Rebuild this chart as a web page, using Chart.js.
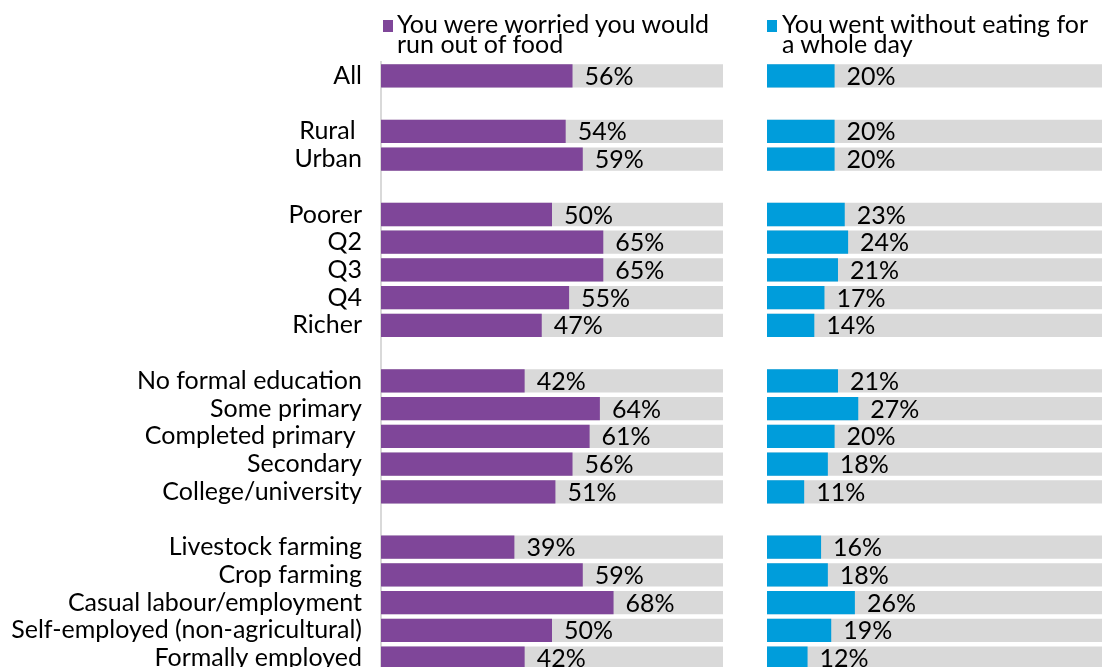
<!DOCTYPE html>
<html>
<head>
<meta charset="utf-8">
<script src="https://cdn.jsdelivr.net/npm/chart.js@4/dist/chart.umd.min.js"></script>
<style>
  html, body { margin: 0; padding: 0; background: #fff; overflow: hidden; width: 1102px; height: 667px; }
  .panel { position: absolute; top: 0; height: 672px; }
  #leftWrap { left: 0; width: 745px; }
  #rightWrap { left: 745px; width: 360px; }
  .legend { position: absolute; font-family: Lato, sans-serif; font-size: 25px; line-height: 20px; color: #000; white-space: nowrap; }
  .legend .sw { position: absolute; width: 10px; height: 12px; top: 7px; }
  .legend .tx { position: absolute; top: 0; }
</style>
</head>
<body>
<div class="panel" id="leftWrap"><canvas id="leftChart"></canvas></div>
<div class="panel" id="rightWrap"><canvas id="rightChart"></canvas></div>
<div class="legend" style="left:383px; top:13px;">
  <div class="sw" style="background:#7f4699;"></div>
  <div class="tx" style="left:14px;">You were worried you would<br>run out of food</div>
</div>
<div class="legend" style="left:767px; top:13px;">
  <div class="sw" style="background:#009ddb;"></div>
  <div class="tx" style="left:15px;">You went without eating for<br>a whole day</div>
</div>
<script>
// Row labels; empty strings leave a gap between groups
const categories = [
  'All', '',
  'Rural ', 'Urban', '',
  'Poorer', 'Q2', 'Q3', 'Q4', 'Richer', '',
  'No formal education', 'Some primary', 'Completed primary ', 'Secondary', 'College/university', '',
  'Livestock farming', 'Crop farming', 'Casual labour/employment', 'Self-employed (non-agricultural)', 'Formally employed'
];
// Share (%) worried about running out of food
const worriedValues = [
  56, null,
  54, 59, null,
  50, 65, 65, 55, 47, null,
  42, 64, 61, 56, 51, null,
  39, 59, 68, 50, 42
];
// Share (%) who went a whole day without eating
const withoutEatingValues = [
  20, null,
  20, 20, null,
  23, 24, 21, 17, 14, null,
  21, 27, 20, 18, 11, null,
  16, 18, 26, 19, 12
];
const FULL = 100;

const FONT = 'Lato, sans-serif';

// Percentage labels drawn just past the end of each coloured bar
const valueLabels = {
  id: 'valueLabels',
  afterDatasetsDraw(chart) {
    const ctx = chart.ctx;
    const meta = chart.getDatasetMeta(0);
    const data = chart.data.datasets[0].data;
    ctx.save();
    ctx.font = '25px ' + FONT;
    ctx.fillStyle = '#000';
    ctx.textBaseline = 'middle';
    ctx.textAlign = 'left';
    meta.data.forEach((bar, i) => {
      if (data[i] == null) return;
      ctx.fillText(data[i] + '%', bar.x + 12, bar.y + 1);
    });
    ctx.restore();
  }
};

function makeChart(id, values, color, showLabels) {
  const track = values.map(v => (v == null ? null : FULL));
  const yScale = showLabels ? {
    display: true,
    afterFit(scale) { scale.width = 381; scale.paddingTop = 0; scale.paddingBottom = 0; },
    grid: { display: false, drawTicks: false },
    border: { display: true, color: '#d9d9d9', width: 2 },
    ticks: { color: '#000', padding: 19, autoSkip: false, font: { family: FONT, size: 25 } }
  } : { display: false };
  return new Chart(document.getElementById(id), {
    type: 'bar',
    data: {
      labels: categories,
      datasets: [
        { data: values, backgroundColor: color, grouped: false, order: 0,
          categoryPercentage: 1, barPercentage: 0.84 },
        { data: track, backgroundColor: '#d9d9d9', grouped: false, order: 1,
          categoryPercentage: 1, barPercentage: 0.84 }
      ]
    },
    options: {
      indexAxis: 'y',
      responsive: true,
      maintainAspectRatio: false,
      animation: false,
      events: [],
      layout: { padding: showLabels ? { top: 62, right: 22, left: 0, bottom: 0 }
                                    : { top: 62, right: 0, left: 22, bottom: 0 } },
      plugins: { legend: { display: false }, tooltip: { enabled: false } },
      scales: {
        x: { display: false, min: 0, max: FULL },
        y: yScale
      }
    },
    plugins: [valueLabels]
  });
}

makeChart('leftChart', worriedValues, '#7f4699', true);
makeChart('rightChart', withoutEatingValues, '#009ddb', false);
</script>
</body>
</html>
